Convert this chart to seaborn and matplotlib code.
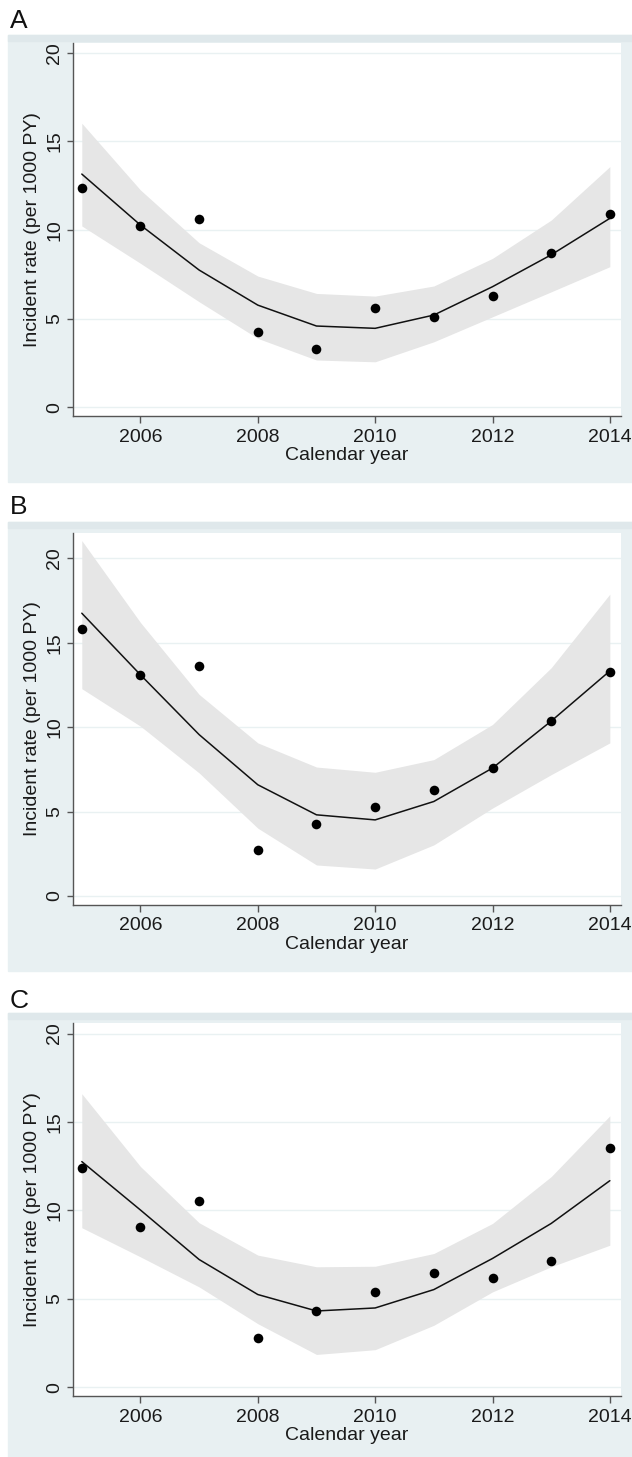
import numpy as np
import pandas as pd
import seaborn as sns
import matplotlib.pyplot as plt
from matplotlib.patches import Rectangle

sns.set_theme(style="white")
plt.rcParams["font.family"] = ["Liberation Sans", "DejaVu Sans"]

years = [2005, 2006, 2007, 2008, 2009, 2010, 2011, 2012, 2013, 2014]

# panel A
obs_a = [12.4, 10.2, 10.65, 4.22, 3.31, 5.59, 5.10, 6.25, 8.68, 10.9]
fit_a = [13.16, 10.28, 7.74, 5.76, 4.58, 4.45, 5.2, 6.8, 8.6, 10.66]
hi_a = [16.03, 12.26, 9.28, 7.4, 6.42, 6.27, 6.84, 8.4, 10.56, 13.58]
lo_a = [10.23, 8.12, 5.95, 3.88, 2.66, 2.56, 3.69, 5.1, 6.51, 7.93]

# panel B
obs_b = [15.8, 13.09, 13.62, 2.73, 4.26, 5.25, 6.30, 7.58, 10.38, 13.27]
fit_b = [16.75, 13.1, 9.56, 6.59, 4.81, 4.51, 5.6, 7.58, 10.36, 13.33]
hi_b = [21.05, 16.2, 11.94, 9.07, 7.64, 7.33, 8.08, 10.16, 13.52, 17.88]
lo_b = [12.28, 10.06, 7.29, 4.02, 1.84, 1.6, 3.03, 5.21, 7.19, 9.07]

# panel C
obs_c = [12.38, 9.07, 10.55, 2.78, 4.31, 5.39, 6.47, 6.16, 7.13, 13.55]
fit_c = [12.76, 10.02, 7.22, 5.24, 4.31, 4.48, 5.52, 7.28, 9.26, 11.68]
hi_c = [16.6, 12.48, 9.3, 7.47, 6.81, 6.84, 7.56, 9.26, 11.91, 15.35]
lo_c = [9.02, 7.37, 5.67, 3.59, 1.85, 2.12, 3.5, 5.39, 6.81, 8.03]

panels = [
    ("A", obs_a, fit_a, hi_a, lo_a, (-0.5, 20.56)),
    ("B", obs_b, fit_b, hi_b, lo_b, (-0.53, 21.5)),
    ("C", obs_c, fit_c, hi_c, lo_c, (-0.5, 20.6)),
]

W, H = 632, 1457
fig = plt.figure(figsize=(W / 100, H / 100), dpi=100)
fig.patch.set_facecolor("white")

# pixel boxes (top-origin): background region, plot region, label y
bg_boxes = [(35, 482), (522, 971), (1013, 1457)]
plot_boxes = [(43, 416), (533, 905), (1023, 1396)]
label_y = [21, 507, 1001]

bg_col = "#e8f0f2"
strip_col = "#dfe8eb"

for i, (name, obs, fit, hi, lo, ylim) in enumerate(panels):
    bt, bb = bg_boxes[i]
    fig.patches.append(Rectangle((8 / W, 1 - bb / H), (W - 8) / W, (bb - bt) / H,
                                 transform=fig.transFigure, color=bg_col, zorder=-2))
    fig.patches.append(Rectangle((8 / W, 1 - (bt + 6) / H), (W - 8) / W, 6 / H,
                                 transform=fig.transFigure, color=strip_col, zorder=-1))
    fig.text(10 / W, 1 - label_y[i] / H, name, fontsize=19, va="center", ha="left",
             color="#111111")

    pt, pb = plot_boxes[i]
    ax = fig.add_axes([73 / W, 1 - pb / H, (621 - 73) / W, (pb - pt) / H])
    ax.set_facecolor("white")

    df = pd.DataFrame({"year": years, "obs": obs, "fit": fit, "hi": hi, "lo": lo})
    for v in [0, 5, 10, 15, 20]:
        ax.axhline(v, color="#e9f1f2", lw=1.0, zorder=0)
    ax.fill_between(df["year"], df["lo"], df["hi"], color="#e6e6e6", lw=0, zorder=1)
    sns.lineplot(data=df, x="year", y="fit", color="#111111", lw=1.1, ax=ax, zorder=2)
    sns.scatterplot(data=df, x="year", y="obs", color="black", s=48, edgecolor="black",
                    linewidth=0, ax=ax, zorder=3)

    ax.set_xlim(2004.85, 2014.19)
    ax.set_ylim(*ylim)
    ax.set_xticks([2006, 2008, 2010, 2012, 2014])
    ax.set_yticks([0, 5, 10, 15, 20])
    ax.set_yticklabels(["0", "5", "10", "15", "20"], rotation=90, va="center")
    ax.tick_params(axis="both", labelsize=14, colors="#1a1a1a")
    ax.tick_params(axis="x", length=5, width=1, color="#555555", pad=4, bottom=True)
    ax.tick_params(axis="y", length=4, width=1, color="#555555", pad=3, left=True)
    for s in ["top", "right"]:
        ax.spines[s].set_visible(False)
    for s in ["left", "bottom"]:
        ax.spines[s].set_color("#555555")
        ax.spines[s].set_linewidth(1.0)
    ax.set_xlabel("Calendar year", fontsize=14, color="#1a1a1a", labelpad=1)
    ax.set_ylabel("Incident rate (per 1000 PY)", fontsize=14, color="#1a1a1a", labelpad=4)

fig.savefig("out.png", dpi=100)
